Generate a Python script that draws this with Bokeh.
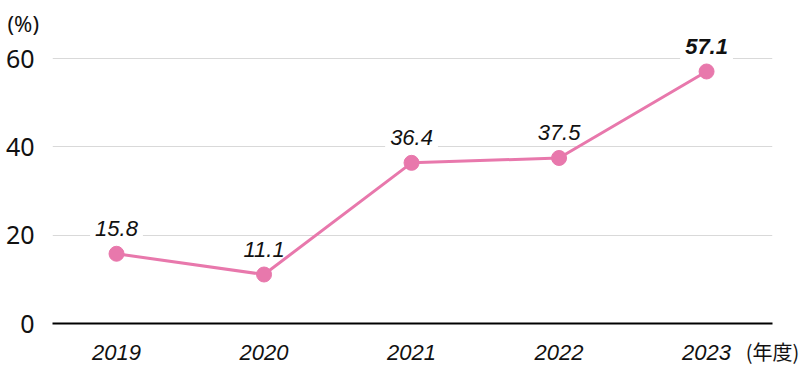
from bokeh.plotting import figure
from bokeh.models import FixedTicker, Title, ColumnDataSource
from bokeh.core.properties import value
from bokeh.embed import file_html
from bokeh.resources import INLINE

years = [2019, 2020, 2021, 2022, 2023]
rates = [15.8, 11.1, 36.4, 37.5, 57.1]
labels = ["15.8", "11.1", "36.4", "37.5", "57.1"]
y_ticks = [0, 20, 40, 60]

PINK = "#e878ac"

src = ColumnDataSource(dict(x=years[:-1], y=rates[:-1], t=labels[:-1]))
src_all = ColumnDataSource(dict(x=years, y=rates))

p = figure(width=800, height=380, output_backend="svg", toolbar_location=None,
           x_range=(2018.566, 2023.447), y_range=(0, 64.8),
           min_border_left=52, min_border_right=28, min_border_top=0, min_border_bottom=57)
p.outline_line_color = None
p.background_fill_color = "white"
p.border_fill_color = "white"

# grid
p.xgrid.grid_line_color = None
p.ygrid.ticker = FixedTicker(ticks=y_ticks[1:])
p.ygrid.grid_line_color = "#d9d9d9"
p.ygrid.grid_line_width = 1

# x axis
xa = p.xaxis[0]
xa.ticker = FixedTicker(ticks=years)
xa.major_label_overrides = {y: str(y) for y in years}
xa.major_tick_line_color = None
xa.minor_tick_line_color = None
xa.axis_line_color = "black"
xa.axis_line_width = 2
xa.major_label_text_font = "Liberation Sans"
xa.major_label_text_font_style = "italic"
xa.major_label_text_font_size = "22px"
xa.major_label_text_color = "#111111"
xa.major_label_standoff = 15
xa.axis_label = "(年度)"
xa.axis_label_align = "end"
xa.axis_label_standoff = -26
xa.axis_label_text_font = "Noto Sans CJK JP"
xa.axis_label_text_font_style = "normal"
xa.axis_label_text_font_size = "20px"
xa.axis_label_text_color = "#111111"

# y axis
ya = p.yaxis[0]
ya.ticker = FixedTicker(ticks=y_ticks)
ya.major_tick_line_color = None
ya.minor_tick_line_color = None
ya.axis_line_color = None
ya.major_label_text_font = "Noto Sans"
ya.major_label_text_font_size = "25px"
ya.major_label_text_color = "#111111"
ya.major_label_standoff = 12

# value labels (under the line)
p.text(x="x", y="y", text="t", source=src, y_offset=-25,
       text_align="center", text_baseline="middle",
       text_font=value("Liberation Sans"), text_font_style="italic",
       text_font_size="22px", text_color="#111111",
       background_fill_color="white", padding=5)
p.text(x=[years[-1]], y=[rates[-1]], text=[labels[-1]], y_offset=-25,
       text_align="center", text_baseline="middle",
       text_font=value("Liberation Sans"), text_font_style="bold italic",
       text_font_size="22px", text_color="#111111",
       background_fill_color="white", padding=5)

p.line(x="x", y="y", source=src_all, line_color=PINK, line_width=3)
p.scatter(x="x", y="y", source=src_all, size=15, fill_color=PINK, line_color=PINK)

p.add_layout(Title(text="(%)", align="left", offset=-45, standoff=0,
                   text_font="Noto Sans", text_font_size="22px",
                   text_font_style="normal", text_color="#111111"), "above")
p.add_layout(Title(text=" ", align="left", standoff=2,
                   text_font_size="1px", text_color="white"), "above")

open("out.html", "w").write(file_html(p, INLINE))
